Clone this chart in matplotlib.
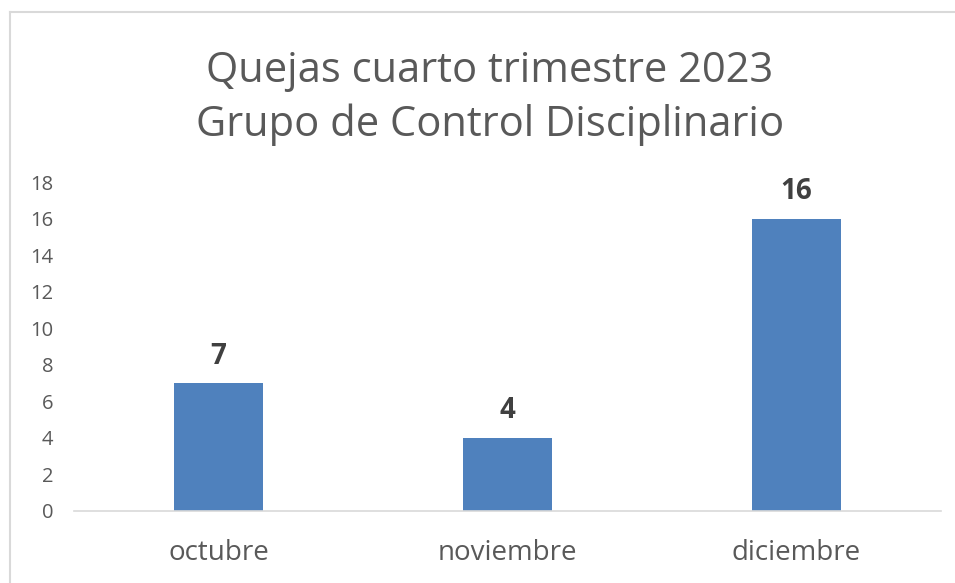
import matplotlib.pyplot as plt
from matplotlib.lines import Line2D

months = ["octubre", "noviembre", "diciembre"]
quejas = [7, 4, 16]
y_ticks = list(range(0, 19, 2))

title = "Quejas cuarto trimestre 2023\nGrupo de Control Disciplinario"

plt.rcParams["font.family"] = ["Open Sans", "DejaVu Sans"]

W, H = 955, 583
fig = plt.figure(figsize=(W / 100, H / 100), dpi=100)
fig.patch.set_facecolor("white")

# chart frame (only top and left edges visible in the crop)
fig.add_artist(Line2D([10 / W, 10 / W], [0, 1 - 12 / H], transform=fig.transFigure,
                      color="#d9d9d9", linewidth=1.5))
fig.add_artist(Line2D([10 / W, 1], [1 - 12 / H, 1 - 12 / H], transform=fig.transFigure,
                      color="#d9d9d9", linewidth=1.5))

ax = fig.add_axes([74 / W, 1 - 511 / H, (941 - 74) / W, (511 - 182) / H])
x = range(len(months))
bars = ax.bar(x, quejas, width=0.31, color="#4f81bd")

for b, v in zip(bars, quejas):
    ax.annotate(str(v), (b.get_x() + b.get_width() / 2, v), xytext=(0, 9),
                textcoords="offset points", ha="center", va="bottom",
                fontsize=20, fontweight="bold", color="#404040")

ax.set_xlim(-0.5, len(months) - 0.5)
ax.set_ylim(0, 18)
ax.set_yticks(y_ticks)
ax.set_xticks(list(x))
ax.set_xticklabels(months, fontsize=20, color="#595959")
ax.tick_params(axis="y", labelsize=14.5, labelcolor="#595959", length=0, pad=15)
ax.tick_params(axis="x", length=0, pad=20)
for side in ("top", "right", "left"):
    ax.spines[side].set_visible(False)
ax.spines["bottom"].set_color("#d9d9d9")
ax.spines["bottom"].set_linewidth(1.2)

fig.text(490 / W, 1 - 98 / H, title, ha="center", va="center", fontsize=30,
         color="#595959", linespacing=1.33)

fig.savefig("out.png", dpi=100, facecolor="white")
